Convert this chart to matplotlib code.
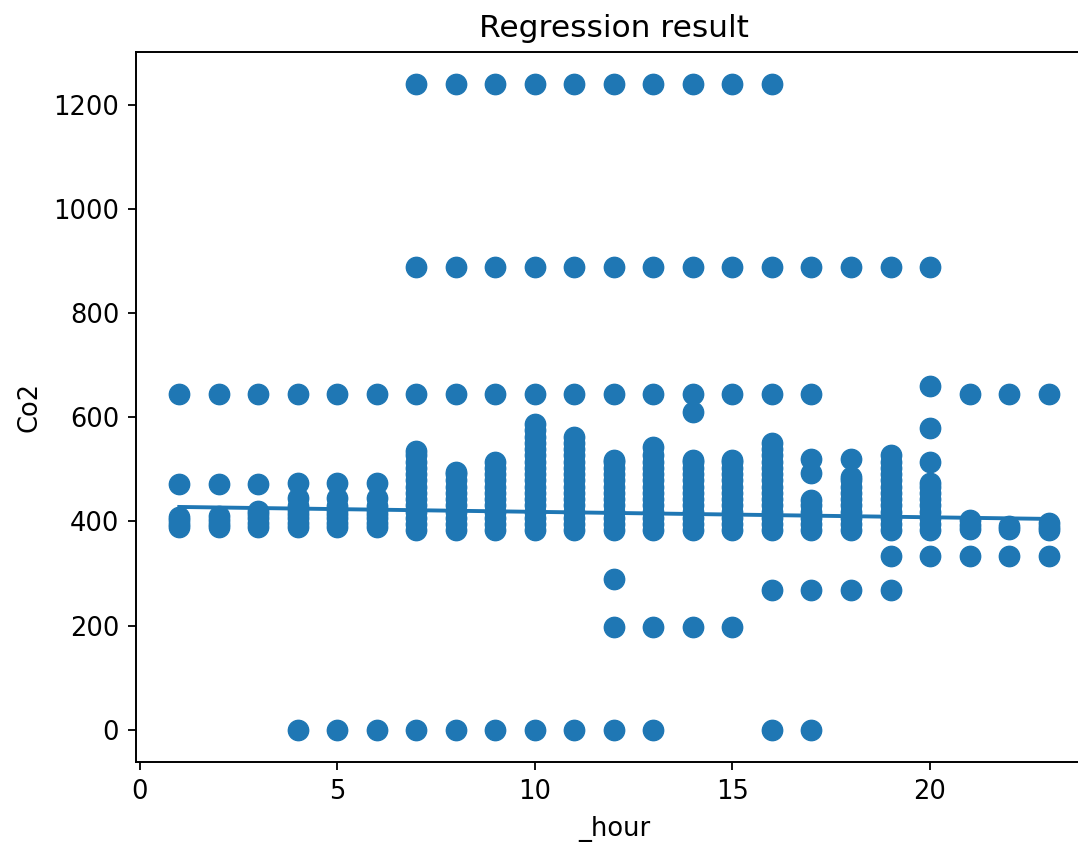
import numpy as np
import matplotlib
matplotlib.use("Agg")
import matplotlib.pyplot as plt

# hours of the day and the Co2 readings seen at each hour
hours = list(range(1, 24))
co2_by_hour = [
    [389, 396, 402, 408, 472, 645],                                   # 1
    [389, 396, 403, 410, 472, 645],                                   # 2
    [390, 398, 406, 414, 420, 472, 645],                              # 3
    [390, 398, 406, 414, 422, 430, 445, 474, 645, 0],                 # 4
    [390, 398, 406, 414, 422, 430, 445, 474, 645, 0],                 # 5
    [390, 398, 406, 414, 422, 430, 445, 474, 645, 0],                 # 6
    [383, 395, 407, 419, 431, 443, 455, 467, 479, 491, 503, 515, 527, 535,
     645, 888, 1240, 0],                                              # 7
    [383, 395, 407, 419, 431, 443, 455, 467, 479, 491, 495,
     645, 888, 1240, 0],                                              # 8
    [383, 395, 407, 419, 431, 443, 455, 467, 479, 491, 503, 514,
     645, 888, 1240, 0],                                              # 9
    [383, 395, 407, 419, 431, 443, 455, 467, 479, 491, 503, 515, 527, 539,
     551, 563, 575, 587, 645, 888, 1240, 0],                          # 10
    [383, 395, 407, 419, 431, 443, 455, 467, 479, 491, 503, 515, 527, 539,
     551, 562, 645, 888, 1240, 0],                                    # 11
    [383, 395, 407, 419, 431, 443, 455, 467, 479, 491, 503, 515, 518,
     645, 888, 1240, 290, 198, 0],                                    # 12
    [383, 395, 407, 419, 431, 443, 455, 467, 479, 491, 503, 515, 527, 543,
     645, 888, 1240, 198, 0],                                         # 13
    [383, 395, 407, 419, 431, 443, 455, 467, 479, 491, 503, 515, 518,
     610, 645, 888, 1240, 198],                                       # 14
    [383, 395, 407, 419, 431, 443, 455, 467, 479, 491, 503, 515, 518,
     645, 888, 1240, 198],                                            # 15
    [383, 395, 407, 419, 431, 443, 455, 467, 479, 491, 503, 515, 527, 539,
     550, 645, 888, 1240, 268, 0],                                    # 16
    [383, 395, 407, 419, 431, 441, 493, 521, 645, 888, 268, 0],       # 17
    [383, 395, 407, 419, 431, 443, 455, 467, 479, 485, 521, 888, 268],  # 18
    [383, 395, 407, 419, 431, 443, 455, 467, 479, 491, 503, 515, 527,
     888, 268, 333],                                                  # 19
    [383, 395, 407, 419, 431, 443, 455, 467, 473, 514, 579, 660,
     888, 333],                                                       # 20
    [386, 394, 403, 645, 333],                                        # 21
    [386, 391, 645, 333],                                             # 22
    [384, 390, 397, 645, 333],                                        # 23
]

# fitted regression line
fit_intercept = 429.0
fit_slope = -1.045

x = []
y = []
for h, vals in zip(hours, co2_by_hour):
    x += [h] * len(vals)
    y += vals
x = np.array(x)
y = np.array(y)

plt.rcParams["font.size"] = 18.5

fig = plt.figure(figsize=(10.78, 8.47), dpi=100)
ax = fig.add_axes([0.126, 0.1004, 0.887, 0.8382])

ax.scatter(x, y, s=215, color="#1f77b4")
hx = np.array(hours)
ax.plot(hx, fit_intercept + fit_slope * hx, color="#1f77b4", lw=2.8)

ax.set_xlim(-0.1, 24.1)
ax.set_ylim(-62, 1302)
ax.set_xticks([0, 5, 10, 15, 20])
ax.set_yticks([0, 200, 400, 600, 800, 1000, 1200])
ax.tick_params(length=6, width=1.3, pad=6)
for s in ax.spines.values():
    s.set_linewidth(1.4)

ax.set_title("Regression result", fontsize=22.5, pad=11)
ax.set_xlabel("_hour", labelpad=8)
ax.set_ylabel("Co2", labelpad=8)

fig.savefig("out.png", dpi=100)
